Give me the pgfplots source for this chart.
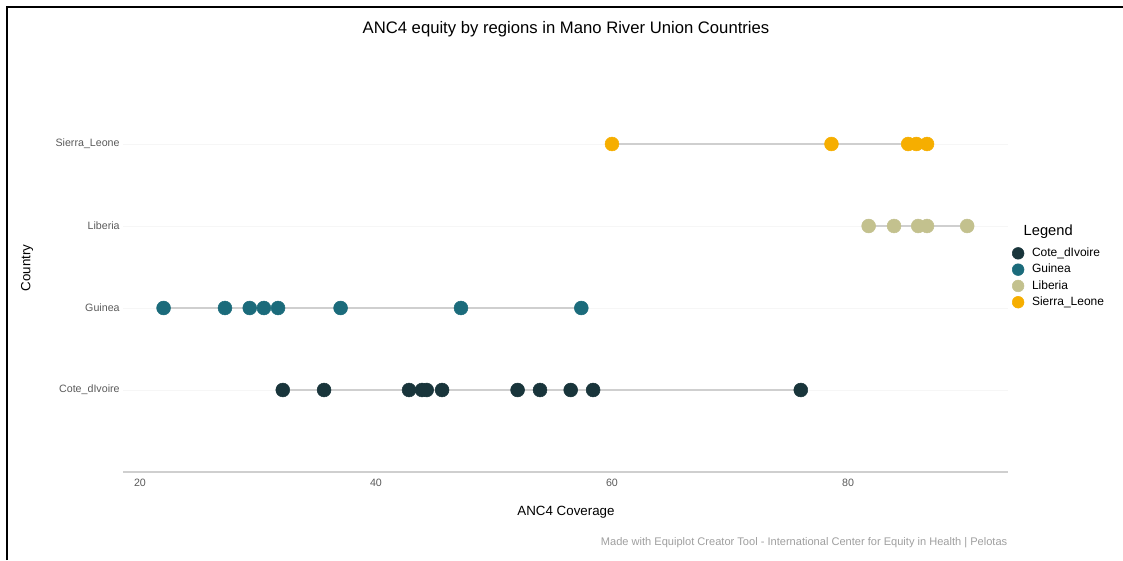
\documentclass[border=0pt]{standalone}
\usepackage{fontspec}
\setmainfont{Liberation Sans}
\usepackage{pgfplots}
\pgfplotsset{compat=1.18}
\definecolor{cCote}{HTML}{19353B}
\definecolor{cGuinea}{HTML}{1B6B7B}
\definecolor{cLiberia}{HTML}{C3C18E}
\definecolor{cSierra}{HTML}{F6AE00}
\definecolor{tickgray}{HTML}{5A5A5A}
\definecolor{linegray}{HTML}{CFCFCF}
\begin{document}
\begin{tikzpicture}
\useasboundingbox (0,0) rectangle (842.25pt,420pt);
\draw[line width=2.2pt] (5.25pt,0) -- (5.25pt,414.75pt) -- (842.25pt,414.75pt);
\begin{axis}[
  at={(92.25pt,66pt)}, anchor=south west,
  scale only axis, width=663.75pt, height=307.5pt,
  xmin=18.56, xmax=93.56, ymin=0, ymax=5,
  xtick={20,40,60,80},
  ytick={1,2,3,4},
  yticklabels={Cote\_dIvoire,Guinea,Liberia,Sierra\_Leone},
  major tick length=0pt,
  separate axis lines,
  axis x line*=bottom, axis y line*=left,
  x axis line style={draw=linegray, line width=0.8pt, -},
  y axis line style={draw=none},
  ymajorgrids, major grid style={gray!7, line width=0.6pt},
  tick label style={font=\fontsize{8}{9}\selectfont, text=tickgray},
  /pgf/number format/assume math mode=true,
  xticklabel style={yshift=-2pt},
  yticklabel style={xshift=1pt},
  clip=false,
  legend style={at={(1.0,0.56)}, anchor=north west, draw=none, fill=none,
    font=\fontsize{9}{10}\selectfont, row sep=0.2pt, inner xsep=3pt,
    /tikz/every odd column/.append style={column sep=4pt}},
  legend image post style={mark size=4.4pt},
  legend cell align=left,
]
% connecting lines
\addplot[linegray, line width=1.5pt, forget plot] coordinates {(32.1,1) (76.0,1)};
\addplot[linegray, line width=1.5pt, forget plot] coordinates {(22.0,2) (57.4,2)};
\addplot[linegray, line width=1.5pt, forget plot] coordinates {(81.75,3) (90.1,3)};
\addplot[linegray, line width=1.5pt, forget plot] coordinates {(60.0,4) (86.7,4)};
% points
\addplot[only marks, mark=*, mark size=5.2pt, color=cCote] coordinates {
(32.1,1) (35.6,1) (42.8,1) (43.9,1) (44.3,1) (45.6,1) (52.0,1) (53.9,1) (56.5,1) (58.4,1) (76.0,1)};
\addlegendentry{Cote\_dIvoire}
\addplot[only marks, mark=*, mark size=5.2pt, color=cGuinea] coordinates {
(22.0,2) (27.2,2) (29.3,2) (30.5,2) (31.7,2) (37.0,2) (47.2,2) (57.4,2)};
\addlegendentry{Guinea}
\addplot[only marks, mark=*, mark size=5.2pt, color=cLiberia] coordinates {
(81.75,3) (83.9,3) (85.95,3) (86.7,3) (90.1,3)};
\addlegendentry{Liberia}
\addplot[only marks, mark=*, mark size=5.2pt, color=cSierra] coordinates {
(60.0,4) (78.6,4) (85.1,4) (85.8,4) (86.7,4)};
\addlegendentry{Sierra\_Leone}
\end{axis}
\node[font=\fontsize{12.5}{14}\selectfont] at (424.5pt,398.25pt) {ANC4 equity by regions in Mano River Union Countries};
\node[font=\fontsize{10}{12}\selectfont] at (424.5pt,36pt) {ANC4 Coverage};
\node[font=\fontsize{10}{12}\selectfont, rotate=90] at (20.25pt,219pt) {Country};
\node[font=\fontsize{11}{13}\selectfont, anchor=west] at (764.25pt,246pt) {Legend};
\node[font=\fontsize{8.3}{9}\selectfont, text=gray!75, anchor=east] at (759pt,12.75pt) {Made with Equiplot Creator Tool - International Center for Equity in Health | Pelotas};
\end{tikzpicture}
\end{document}
